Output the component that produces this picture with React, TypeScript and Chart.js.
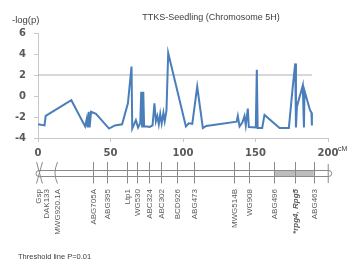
import React, { useEffect, useRef } from "react";
import { Chart, registerables } from "chart.js";

Chart.register(...registerables);

// ---- Data ----
const positionsCM = [
  0, 4.5, 5.3, 23, 32.5, 33.6, 34.2, 35, 35.6, 36.6, 40, 49, 53, 58, 62, 64.5, 65,
  67.5, 69, 70.5, 71.2, 71.8, 72.6, 73.2, 75, 77, 79, 80.3, 81.3, 82.3, 83.3, 84.3,
  85.3, 86.5, 87.4, 88.6, 89.8, 102, 104, 106.4, 109.8, 113.7, 116, 137, 137.8, 139,
  141, 142.4, 143.3, 144.7, 145.4, 150.2, 150.9, 151.5, 154.6, 156.2, 166.6, 173,
  175.7, 177.4, 177.9, 178.6, 182.6, 183.4, 183.8, 187.5, 188.6, 188.9,
];
const logP = [
  -2.7, -2.8, -1.9, -0.4, -2.9, -2.2, -3.0, -1.5, -3.0, -1.5, -1.7, -3.1, -2.8, -2.7,
  -0.7, 2.8, -3.1, -2.3, -3.0, -2.6, 0.4, -3.0, 0.4, -2.9, -2.9, -2.95, -2.8, -0.7,
  -2.4, -1.9, -2.7, -1.7, -2.6, -1.6, -2.4, -1.4, 4.1, -2.9, -2.6, -2.65, 0.9, -3.05,
  -2.85, -2.45, -1.9, -2.9, -2.5, -1.9, -2.8, -1.2, -2.95, -3.0, 2.5, -3.05, -3.05,
  -1.8, -3.05, -3.05, 0.9, 3.1, -3.0, -1.0, 1.0, -3.0, 0.5, -1.3, -1.6, -2.8,
];
const thresholdLogP = 2;
const thresholdSpanCM = [0, 189];
const xTickValues = [0, 50, 100, 150, 200];
const yTickValues = [-4, -2, 0, 2, 4, 6];

const markerNames = [
  "Gsp", "DAK133", "MWG920.1A", "ABG705A", "ABG395", "Ltp1", "WG530", "ABC324",
  "ABC302", "BCD926", "ABG473", "MWG514B", "WG908", "ABG496", "*rpg4, Rpg5", "ABG463",
];
const markerCM = [
  0, 5.5, 12.8, 37.8, 47.4, 61.2, 68.5, 76.6, 84.7, 95.9, 107.9, 135, 145.6, 163.1,
  176.9, 190.2,
];
const shadedSpanCM = [163.1, 190.2];
const mapEndCM = 200.5;

const titleText = "TTKS-Seedling (Chromosome 5H)";
const yTitleText = "-log(p)";
const xUnitText = "cM";
const noteText = "Threshold line P=0.01";

const mapPlugin = {
  id: "mapPlugin",
  afterDraw(chart: any) {
    const ctx: CanvasRenderingContext2D = chart.ctx;
    const xs = chart.scales.x;
    const px = (v: number) => xs.getPixelForValue(v);
    ctx.save();

    // texts
    ctx.fillStyle = "#404040";
    ctx.textBaseline = "middle";
    ctx.font = "9px 'Liberation Sans', Arial, sans-serif";
    ctx.textAlign = "center";
    ctx.fillText(titleText, 211, 18);
    ctx.textAlign = "left";
    ctx.font = "9.5px 'Liberation Sans', Arial, sans-serif";
    ctx.fillText(yTitleText, 12, 20);
    ctx.font = "7px 'Liberation Sans', Arial, sans-serif";
    ctx.fillText(xUnitText, 338, 149);
    ctx.font = "7.5px 'Liberation Sans', Arial, sans-serif";
    ctx.fillText(noteText, 18, 257);

    // chromosome bar
    const yTop = 170.5;
    const yBot = 176.5;
    const yMid = (yTop + yBot) / 2;
    const x0 = px(0);
    const xEnd = px(mapEndCM);
    ctx.fillStyle = "#bcbcbc";
    ctx.fillRect(px(shadedSpanCM[0]), yTop, px(shadedSpanCM[1]) - px(shadedSpanCM[0]), yBot - yTop);
    ctx.strokeStyle = "#8a8a8a";
    ctx.lineWidth = 1;
    ctx.beginPath();
    ctx.moveTo(x0, yTop);
    ctx.lineTo(xEnd, yTop);
    ctx.moveTo(x0, yBot);
    ctx.lineTo(xEnd, yBot);
    ctx.stroke();
    // right cap
    ctx.beginPath();
    ctx.arc(xEnd, yMid, 3, -Math.PI / 2, Math.PI / 2);
    ctx.stroke();
    ctx.beginPath();
    ctx.moveTo(xEnd - 0.5, 164);
    ctx.lineTo(xEnd - 0.5, 183);
    ctx.stroke();
    // left cap
    ctx.beginPath();
    ctx.arc(x0 + 1, yMid, 3, Math.PI / 2, (3 * Math.PI) / 2);
    ctx.stroke();

    // markers
    const lt = 162;
    const lb = 183.5;
    markerNames.forEach((name, i) => {
      const x = Math.round(px(markerCM[i])) + 0.5;
      ctx.strokeStyle = "#8a8a8a";
      ctx.beginPath();
      if (i === 0) {
        ctx.moveTo(x + 4, lt);
        ctx.lineTo(x - 2, lb);
      } else if (i === 1) {
        ctx.moveTo(px(-1), lt);
        ctx.lineTo(px(3), lb);
      } else if (i === 2) {
        ctx.moveTo(x, lt);
        ctx.quadraticCurveTo(x - 5, yMid, x, lb);
      } else {
        ctx.moveTo(x, lt);
        ctx.lineTo(x, lb);
      }
      ctx.stroke();

      ctx.save();
      ctx.translate(x, 189);
      ctx.rotate(-Math.PI / 2);
      ctx.textAlign = "right";
      ctx.textBaseline = "middle";
      ctx.fillStyle = "#5a5a5a";
      ctx.font =
        name.startsWith("*")
          ? "italic bold 8px 'Liberation Sans', Arial, sans-serif"
          : "8px 'Liberation Sans', Arial, sans-serif";
      ctx.fillText(name, 0, 0);
      ctx.restore();
    });

    ctx.restore();
  },
};

export default function App() {
  const ref = useRef<HTMLCanvasElement | null>(null);

  useEffect(() => {
    if (!ref.current) return;
    const tickFont = { family: "'DejaVu Sans', Verdana, sans-serif", size: 10, weight: "bold" as const };
    const axisColor = "#c8c8c8";
    const chart = new Chart(ref.current, {
      type: "line",
      data: {
        datasets: [
          {
            data: positionsCM.map((x, i) => ({ x, y: logP[i] })),
            borderColor: "#4a7ebb",
            borderWidth: 2,
            pointRadius: 0,
            tension: 0,
            fill: false,
          },
          {
            data: thresholdSpanCM.map((x) => ({ x, y: thresholdLogP })),
            borderColor: "#b0b0b0",
            borderWidth: 1,
            pointRadius: 0,
            fill: false,
          },
        ],
      },
      options: {
        animation: false,
        responsive: false,
        maintainAspectRatio: false,
        layout: { padding: { left: 0, top: 33, right: 24, bottom: 105 } },
        plugins: {
          legend: { display: false },
          tooltip: { enabled: false },
          title: { display: false },
        },
        scales: {
          x: {
            type: "linear",
            min: xTickValues[0],
            max: xTickValues[xTickValues.length - 1],
            afterBuildTicks: (s: any) => {
              s.ticks = xTickValues.map((v) => ({ value: v }));
            },
            afterFit: (s: any) => {
              s.height = 20;
            },
            ticks: { font: tickFont, color: "#595959", padding: 5, maxRotation: 0, autoSkip: false },
            grid: { drawOnChartArea: false, drawTicks: true, tickLength: 4, color: axisColor },
            border: { color: axisColor },
          },
          y: {
            min: yTickValues[0],
            max: yTickValues[yTickValues.length - 1],
            afterBuildTicks: (s: any) => {
              s.ticks = yTickValues.map((v) => ({ value: v }));
            },
            afterFit: (s: any) => {
              s.width = 38;
            },
            ticks: { font: tickFont, color: "#595959", padding: 8 },
            grid: { drawOnChartArea: false, drawTicks: true, tickLength: 4, color: axisColor },
            border: { color: axisColor },
          },
        },
      },
      plugins: [mapPlugin],
    });
    return () => chart.destroy();
  }, []);

  return (
    <div style={{ position: "fixed", left: 0, top: 0, width: 352, height: 263, background: "#fff" }}>
      <canvas ref={ref} width={352} height={263} style={{ width: 352, height: 263 }} />
    </div>
  );
}
